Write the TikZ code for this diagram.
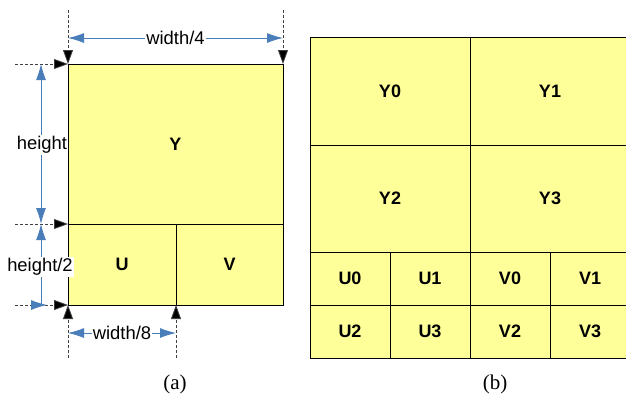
\documentclass[tikz,border=0pt]{standalone}
\usepackage{fontspec}
\setmainfont{Liberation Sans}
\newfontfamily\capfont{Liberation Serif}
\usetikzlibrary{arrows.meta}
\definecolor{cellfill}{HTML}{FFFF99}
\definecolor{dimblue}{HTML}{4A7EBB}
\definecolor{guidegray}{HTML}{404040}
\begin{document}
\begin{tikzpicture}[x=1pt,y=-1pt,
  cell/.style={draw=black, fill=cellfill, line width=0.9pt, inner sep=0pt, outer sep=0pt,
    font=\fontsize{18}{20}\selectfont\bfseries},
  guide/.style={draw=guidegray, line width=0.8pt, dash pattern=on 3pt off 2pt,
    -{Triangle[length=14pt,width=10pt,fill=black]}},
  dim/.style={draw=dimblue, line width=0.9pt,
    {Latex[length=16pt,width=10pt]}-{Latex[length=16pt,width=10pt]}},
  dimlbl/.style={fill=white, inner sep=1pt, font=\fontsize{18.4}{20}\selectfont},
  caption/.style={font=\capfont\fontsize{21}{24}\selectfont}]
\useasboundingbox (0,0) rectangle (626,405);
\clip (0,0) rectangle (626,405);
% ---- (a) ----
\node[cell, minimum width=215pt, minimum height=160pt] (Y) at (175.5,144) {Y};
\node[cell, minimum width=108pt, minimum height=81pt] (U) at (122,264.5) {U};
\node[cell, minimum width=107pt, minimum height=81pt] (V) at (229.5,264.5) {V};
% guide coordinates
\coordinate (gTL) at (68,10);
\coordinate (gTR) at (283,10);
\coordinate (gL1) at (15,64);
\coordinate (gL2) at (15,224);
\coordinate (gL3) at (15,305);
\coordinate (gB1) at (68,358);
\coordinate (gB2) at (176,358);
\draw[guide] (gTL) -- (Y.north west);
\draw[guide] (gTR) -- (Y.north east);
\draw[guide] (gL1) -- (Y.north west);
\draw[guide] (gL2) -- (Y.south west);
\draw[guide] (gL3) -- (U.south west);
\draw[guide] (gB1) -- (U.south west);
\draw[guide] (gB2) -- (U.south east);
% dimension arrows
\coordinate (w4a) at (68,38);
\coordinate (w4b) at (283,38);
\draw[dim] (w4a) -- node[dimlbl] (w4lbl) {width/4} (w4b);
\coordinate (w8a) at (68,333);
\coordinate (w8b) at (176,333);
\draw[dim] (w8a) -- node[dimlbl] (w8lbl) {width/8} (w8b);
\coordinate (hA) at (41,64);
\coordinate (hB) at (41,224);
\draw[dim] (hA) -- (hB);
\node[dimlbl] (hlbl) at (42,145) {height};
\coordinate (h2A) at (41,224);
\coordinate (h2B) at (41,305);
\coordinate (h2C) at (47,305);
\draw[dim] (h2A) -- (h2B) -- (h2C);
\node[dimlbl] (h2lbl) at (40,267) {height/2};
\node[caption] (capa) at (175,384) {(a)};
% ---- (b) ----
\node[cell, minimum width=160pt, minimum height=108pt] (Y0) at (390,91) {Y0};
\node[cell, minimum width=160pt, minimum height=108pt] (Y1) at (550,91) {Y1};
\node[cell, minimum width=160pt, minimum height=107pt] (Y2) at (390,198.5) {Y2};
\node[cell, minimum width=160pt, minimum height=107pt] (Y3) at (550,198.5) {Y3};
\foreach \n/\cx/\cy in {U0/350/278.5, U1/430/278.5, V0/510/278.5, V1/590/278.5,
                        U2/350/331.5, U3/430/331.5, V2/510/331.5, V3/590/331.5}{
  \node[cell, minimum width=80pt, minimum height=53pt] (\n) at (\cx,\cy) {\n};
}
\node[caption] (capb) at (495,384) {(b)};
\end{tikzpicture}
\end{document}
